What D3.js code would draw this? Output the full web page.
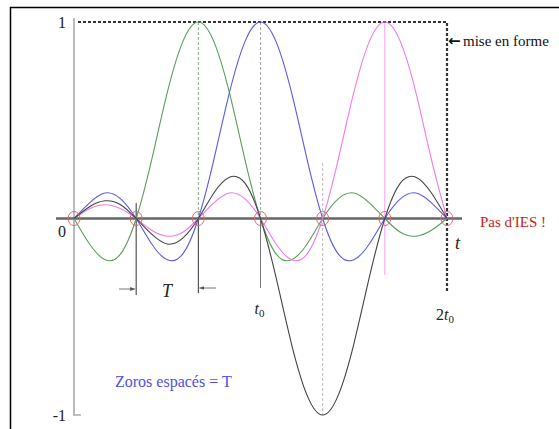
<!DOCTYPE html>
<html>
<head>
<meta charset="utf-8">
<script src="https://cdn.jsdelivr.net/npm/d3@7/dist/d3.min.js"></script>
</head>
<body style="margin:0; background:#fff">
<svg id="chart" width="559" height="429" style="display:block; font-family: Times New Roman, serif"></svg>
<script>
// Sample instants, in units of the symbol period T (t0 = 3T, window 0..2t0)
const tSamples = [0, 0.25, 0.5, 0.75, 1, 1.25, 1.5, 1.75, 2, 2.25, 2.5, 2.75, 3,
                  3.25, 3.5, 3.75, 4, 4.25, 4.5, 4.75, 5, 5.25, 5.5, 5.75, 6];

// Shaped pulses (sinc-type), one per symbol
const greenPulse = [0, -0.13, -0.21, -0.18, 0, 0.30, 0.64, 0.90, 1, 0.90, 0.64, 0.30, 0,
                    -0.18, -0.21, -0.13, 0, 0.10, 0.13, 0.08, 0, -0.07, -0.09, -0.06, 0];
const bluePulse  = [0, 0.08, 0.13, 0.10, 0, -0.13, -0.21, -0.18, 0, 0.30, 0.64, 0.90, 1,
                    0.90, 0.64, 0.30, 0, -0.18, -0.21, -0.13, 0, 0.10, 0.13, 0.08, 0];
const blackPulse = [0, 0.06, 0.09, 0.07, 0, -0.08, -0.13, -0.10, 0, 0.13, 0.21, 0.18, 0,
                    -0.30, -0.64, -0.90, -1, -0.90, -0.64, -0.30, 0, 0.18, 0.21, 0.13, 0];
const pinkPulse  = [0, 0.05, 0.07, 0.05, 0, -0.06, -0.09, -0.07, 0, 0.08, 0.13, 0.10, 0,
                    -0.13, -0.21, -0.18, 0, 0.30, 0.64, 0.90, 1, 0.90, 0.64, 0.30, 0];

// Zero crossings shared by all pulses (sampling instants)
const zeroInstants = [0, 1, 2, 3, 4, 5, 6];

// Y tick labels
const yTicks = [1, 0, -1];
const yTickLabels = ["1", "0", "-1"];

const SERIF = "Times New Roman";

const svg = d3.select("#chart");
const x = d3.scaleLinear().domain([0, 6]).range([74, 447]);
const y = d3.scaleLinear().domain([-1, 1]).range([415, 22]);

const label = (sel, size) => sel
  .attr("font-family", SERIF)
  .style("font-family", SERIF)
  .attr("font-size", size)
  .style("font-size", size + "px");

// outer frame
svg.append("rect")
  .attr("x", 10.5).attr("y", 7.5)
  .attr("width", 560).attr("height", 430)
  .attr("fill", "none").attr("stroke", "#000").attr("stroke-width", 1.5);

// vertical axis
svg.append("line")
  .attr("x1", x(0)).attr("x2", x(0))
  .attr("y1", 18).attr("y2", y(-1))
  .attr("stroke", "#bbb").attr("stroke-width", 2);
svg.append("line")
  .attr("x1", x(0) - 1).attr("x2", x(0) + 7)
  .attr("y1", y(-1)).attr("y2", y(-1))
  .attr("stroke", "#aaa").attr("stroke-width", 1.5);

// y tick labels
svg.selectAll("text.ytick")
  .data(yTicks)
  .join("text")
  .attr("class", "ytick")
  .call(label, 16)
  .attr("x", x(0) - 8)
  .attr("y", d => d === 0 ? y(d) + 18 : y(d) + 6)
  .attr("text-anchor", "end")
  .attr("fill", "#222")
  .text((d, i) => yTickLabels[i]);

// guide lines at the pulse centres
const guide = (t, y1, y2, color, dash, w) =>
  svg.append("line")
    .attr("x1", x(t)).attr("x2", x(t))
    .attr("y1", y1).attr("y2", y2)
    .attr("stroke", color).attr("stroke-width", w || 1)
    .attr("stroke-dasharray", dash || null);

guide(1, 203, 295, "#333");
guide(2, y(1), y(0), "#7cb37c", "3,2");
guide(2, y(0), 293, "#333");
guide(3, y(1), y(0), "#aaa", "3,2");
guide(3, y(0), 288, "#777");
guide(4, 163, y(-1), "#bbb", "3,2");
guide(5, y(1), 275, "#f0a0f0");

// shaping window ("mise en forme")
svg.append("path")
  .attr("d", `M${x(0) + 4},${y(1)} H${x(6)} V293`)
  .attr("fill", "none")
  .attr("stroke", "#333").attr("stroke-width", 2.2)
  .attr("stroke-dasharray", "3,2");

// time axis
svg.append("line")
  .attr("x1", 56).attr("x2", 462)
  .attr("y1", y(0)).attr("y2", y(0))
  .attr("stroke", "#666").attr("stroke-width", 2.5);

// pulses
const line = d3.line()
  .x((d, i) => x(tSamples[i]))
  .y(d => y(d))
  .curve(d3.curveNatural);

const series = [
  { values: greenPulse, color: "#5c9c5c" },
  { values: bluePulse,  color: "#5a5ae6" },
  { values: pinkPulse,  color: "#f07ae6" },
  { values: blackPulse, color: "#444" }
];
svg.selectAll("path.pulse")
  .data(series)
  .join("path")
  .attr("class", "pulse")
  .attr("d", d => line(d.values))
  .attr("fill", "none")
  .attr("stroke", d => d.color)
  .attr("stroke-width", 1.1);

// zero-crossing markers
svg.selectAll("ellipse.zero")
  .data(zeroInstants)
  .join("ellipse")
  .attr("class", "zero")
  .attr("cx", d => x(d)).attr("cy", y(0))
  .attr("rx", 6).attr("ry", 7)
  .attr("fill", "none")
  .attr("stroke", "#e06a6a").attr("stroke-width", 1);

// period arrows
const defs = svg.append("defs");
defs.append("marker")
  .attr("id", "arr")
  .attr("viewBox", "0 0 10 10")
  .attr("refX", 10).attr("refY", 5)
  .attr("markerWidth", 5).attr("markerHeight", 5)
  .attr("orient", "auto")
  .append("path").attr("d", "M0,1 L10,5 L0,9 Z").attr("fill", "#555");

svg.append("line")
  .attr("x1", 119).attr("x2", x(1) - 1)
  .attr("y1", 289).attr("y2", 289)
  .attr("stroke", "#777").attr("stroke-width", 1)
  .attr("marker-end", "url(#arr)");
svg.append("line")
  .attr("x1", 216).attr("x2", x(2) + 1)
  .attr("y1", 288).attr("y2", 288)
  .attr("stroke", "#777").attr("stroke-width", 1)
  .attr("marker-end", "url(#arr)");

svg.append("text")
  .call(label, 18)
  .attr("x", 167).attr("y", 297)
  .attr("text-anchor", "middle")
  .attr("font-style", "italic")
  .attr("fill", "#222")
  .text("T");

// t0 and 2t0 labels
const tLabel = (cx, by, prefix) => {
  const t = svg.append("text")
    .call(label, 16)
    .attr("x", cx).attr("y", by)
    .attr("text-anchor", "middle")
    .attr("fill", "#222");
  if (prefix) t.append("tspan").text(prefix);
  t.append("tspan").attr("font-style", "italic").text("t");
  t.append("tspan").style("font-size", "11px").attr("dy", 3).text("0");
};
tLabel(x(3) - 1, 314, null);
tLabel(x(6) - 2, 320, "2");

svg.append("text")
  .call(label, 18)
  .attr("x", 455).attr("y", 249)
  .attr("font-style", "italic")
  .attr("fill", "#222")
  .text("t");

// annotations
svg.append("text")
  .attr("font-family", "DejaVu Sans")
  .style("font-family", "DejaVu Sans")
  .attr("font-weight", "bold")
  .attr("x", 448).attr("y", 46)
  .attr("font-size", 15)
  .attr("fill", "#111")
  .text("\u2190");
svg.append("text")
  .call(label, 15)
  .attr("x", 463).attr("y", 46)
  .attr("fill", "#111")
  .text("mise en forme");

svg.append("text")
  .call(label, 15)
  .attr("x", 480).attr("y", 227)
  .attr("fill", "#cc2020")
  .text("Pas d'IES !");

svg.append("text")
  .call(label, 16)
  .attr("x", 115).attr("y", 387)
  .attr("fill", "#4f4fe6")
  .text("Zoros espacés = T");
</script>
</body>
</html>
